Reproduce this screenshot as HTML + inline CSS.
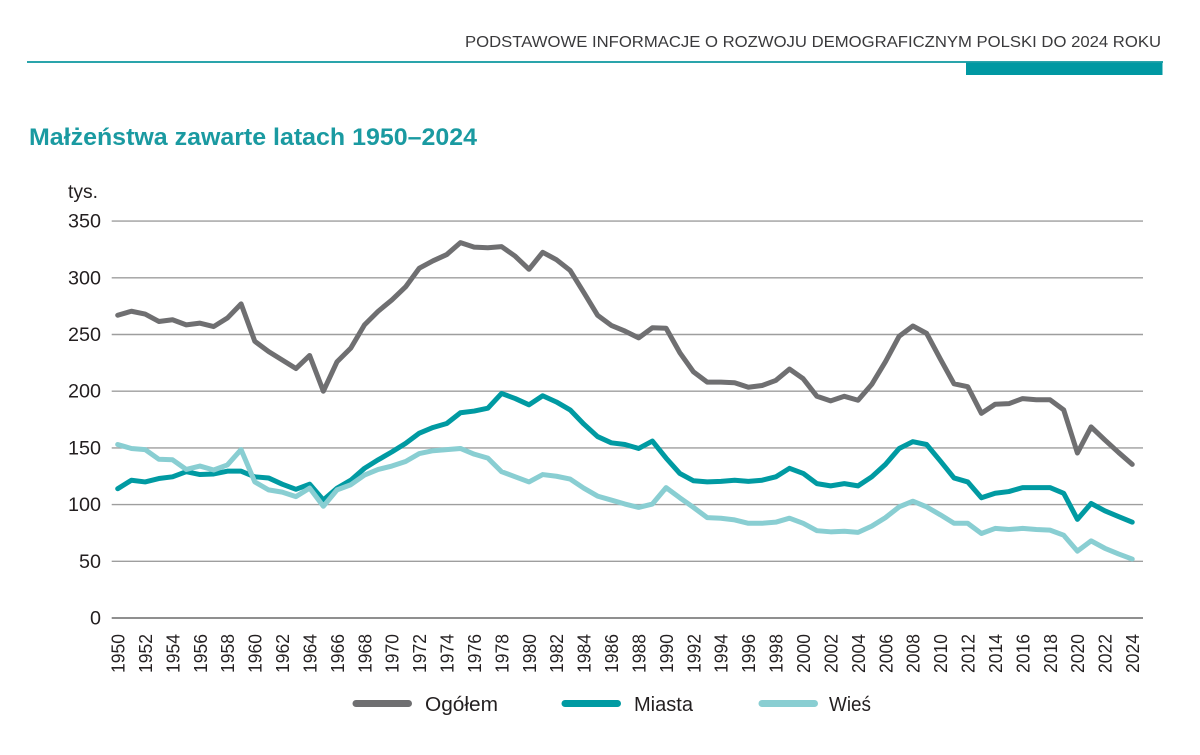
<!DOCTYPE html>
<html>
<head>
<meta charset="utf-8">
<style>
html,body{margin:0;padding:0;background:#fff;}
svg{display:block;}
text{font-family:"Liberation Sans",sans-serif;}
</style>
</head>
<body>
<svg width="1200" height="755" viewBox="0 0 1200 755" xmlns="http://www.w3.org/2000/svg">
  <!-- header -->
  <text x="465" y="47" font-size="16" fill="#3a3a3c" textLength="696" lengthAdjust="spacingAndGlyphs">PODSTAWOWE INFORMACJE O ROZWOJU DEMOGRAFICZNYM POLSKI DO 2024 ROKU</text>
  <rect x="27" y="61" width="1136" height="2" fill="#2aa4ab"/>
  <rect x="966" y="62.5" width="196.5" height="12.5" fill="#0098a2"/>

  <!-- title -->
  <text x="29" y="145" font-size="24" font-weight="bold" fill="#1a9aa1" textLength="448" lengthAdjust="spacingAndGlyphs">Małżeństwa zawarte latach 1950–2024</text>

  <!-- y unit -->
  <text x="68" y="198" font-size="19" fill="#231f20" textLength="30" lengthAdjust="spacingAndGlyphs">tys.</text>

  <!-- gridlines -->
  <g stroke="#9e9e9e" stroke-width="1.4">
    <line x1="111.7" y1="221.1" x2="1143" y2="221.1"/>
    <line x1="111.7" y1="277.8" x2="1143" y2="277.8"/>
    <line x1="111.7" y1="334.5" x2="1143" y2="334.5"/>
    <line x1="111.7" y1="391.2" x2="1143" y2="391.2"/>
    <line x1="111.7" y1="447.9" x2="1143" y2="447.9"/>
    <line x1="111.7" y1="504.6" x2="1143" y2="504.6"/>
    <line x1="111.7" y1="561.3" x2="1143" y2="561.3"/>
  </g>
  <line x1="111.7" y1="618" x2="1143" y2="618" stroke="#6a6a6a" stroke-width="1.6"/>

  <!-- y labels -->
  <g font-size="19" fill="#231f20" text-anchor="end">
    <text x="101" y="227.6" textLength="33" lengthAdjust="spacingAndGlyphs">350</text>
    <text x="101" y="284.3" textLength="33" lengthAdjust="spacingAndGlyphs">300</text>
    <text x="101" y="341" textLength="33" lengthAdjust="spacingAndGlyphs">250</text>
    <text x="101" y="397.7" textLength="33" lengthAdjust="spacingAndGlyphs">200</text>
    <text x="101" y="454.4" textLength="33" lengthAdjust="spacingAndGlyphs">150</text>
    <text x="101" y="511.1" textLength="33" lengthAdjust="spacingAndGlyphs">100</text>
    <text x="101" y="567.8" textLength="22" lengthAdjust="spacingAndGlyphs">50</text>
    <text x="101" y="624.5" textLength="11" lengthAdjust="spacingAndGlyphs">0</text>
  </g>

  <!-- x labels -->
  <g font-size="18" fill="#231f20" text-anchor="end">
    <text transform="translate(124.5,634) rotate(-90)" textLength="39" lengthAdjust="spacingAndGlyphs">1950</text>
    <text transform="translate(151.9,634) rotate(-90)" textLength="39" lengthAdjust="spacingAndGlyphs">1952</text>
    <text transform="translate(179.3,634) rotate(-90)" textLength="39" lengthAdjust="spacingAndGlyphs">1954</text>
    <text transform="translate(206.8,634) rotate(-90)" textLength="39" lengthAdjust="spacingAndGlyphs">1956</text>
    <text transform="translate(234.2,634) rotate(-90)" textLength="39" lengthAdjust="spacingAndGlyphs">1958</text>
    <text transform="translate(261.6,634) rotate(-90)" textLength="39" lengthAdjust="spacingAndGlyphs">1960</text>
    <text transform="translate(289.0,634) rotate(-90)" textLength="39" lengthAdjust="spacingAndGlyphs">1962</text>
    <text transform="translate(316.4,634) rotate(-90)" textLength="39" lengthAdjust="spacingAndGlyphs">1964</text>
    <text transform="translate(343.9,634) rotate(-90)" textLength="39" lengthAdjust="spacingAndGlyphs">1966</text>
    <text transform="translate(371.3,634) rotate(-90)" textLength="39" lengthAdjust="spacingAndGlyphs">1968</text>
    <text transform="translate(398.7,634) rotate(-90)" textLength="39" lengthAdjust="spacingAndGlyphs">1970</text>
    <text transform="translate(426.1,634) rotate(-90)" textLength="39" lengthAdjust="spacingAndGlyphs">1972</text>
    <text transform="translate(453.5,634) rotate(-90)" textLength="39" lengthAdjust="spacingAndGlyphs">1974</text>
    <text transform="translate(481.0,634) rotate(-90)" textLength="39" lengthAdjust="spacingAndGlyphs">1976</text>
    <text transform="translate(508.4,634) rotate(-90)" textLength="39" lengthAdjust="spacingAndGlyphs">1978</text>
    <text transform="translate(535.8,634) rotate(-90)" textLength="39" lengthAdjust="spacingAndGlyphs">1980</text>
    <text transform="translate(563.2,634) rotate(-90)" textLength="39" lengthAdjust="spacingAndGlyphs">1982</text>
    <text transform="translate(590.6,634) rotate(-90)" textLength="39" lengthAdjust="spacingAndGlyphs">1984</text>
    <text transform="translate(618.1,634) rotate(-90)" textLength="39" lengthAdjust="spacingAndGlyphs">1986</text>
    <text transform="translate(645.5,634) rotate(-90)" textLength="39" lengthAdjust="spacingAndGlyphs">1988</text>
    <text transform="translate(672.9,634) rotate(-90)" textLength="39" lengthAdjust="spacingAndGlyphs">1990</text>
    <text transform="translate(700.3,634) rotate(-90)" textLength="39" lengthAdjust="spacingAndGlyphs">1992</text>
    <text transform="translate(727.7,634) rotate(-90)" textLength="39" lengthAdjust="spacingAndGlyphs">1994</text>
    <text transform="translate(755.2,634) rotate(-90)" textLength="39" lengthAdjust="spacingAndGlyphs">1996</text>
    <text transform="translate(782.6,634) rotate(-90)" textLength="39" lengthAdjust="spacingAndGlyphs">1998</text>
    <text transform="translate(810.0,634) rotate(-90)" textLength="39" lengthAdjust="spacingAndGlyphs">2000</text>
    <text transform="translate(837.4,634) rotate(-90)" textLength="39" lengthAdjust="spacingAndGlyphs">2002</text>
    <text transform="translate(864.8,634) rotate(-90)" textLength="39" lengthAdjust="spacingAndGlyphs">2004</text>
    <text transform="translate(892.3,634) rotate(-90)" textLength="39" lengthAdjust="spacingAndGlyphs">2006</text>
    <text transform="translate(919.7,634) rotate(-90)" textLength="39" lengthAdjust="spacingAndGlyphs">2008</text>
    <text transform="translate(947.1,634) rotate(-90)" textLength="39" lengthAdjust="spacingAndGlyphs">2010</text>
    <text transform="translate(974.5,634) rotate(-90)" textLength="39" lengthAdjust="spacingAndGlyphs">2012</text>
    <text transform="translate(1001.9,634) rotate(-90)" textLength="39" lengthAdjust="spacingAndGlyphs">2014</text>
    <text transform="translate(1029.4,634) rotate(-90)" textLength="39" lengthAdjust="spacingAndGlyphs">2016</text>
    <text transform="translate(1056.8,634) rotate(-90)" textLength="39" lengthAdjust="spacingAndGlyphs">2018</text>
    <text transform="translate(1084.2,634) rotate(-90)" textLength="39" lengthAdjust="spacingAndGlyphs">2020</text>
    <text transform="translate(1111.6,634) rotate(-90)" textLength="39" lengthAdjust="spacingAndGlyphs">2022</text>
    <text transform="translate(1139.0,634) rotate(-90)" textLength="39" lengthAdjust="spacingAndGlyphs">2024</text>
  </g>

  <!-- series: data coords (year index, value) -->
  <g transform="translate(117.7,618) scale(13.71,-1.134)" fill="none" stroke-linejoin="round" stroke-linecap="round">
    <polyline vector-effect="non-scaling-stroke" stroke="#6f6f71" stroke-width="5"
      points="0,267 1,270.5 2,268 3,261.5 4,263 5,258.5 6,260 7,257 8,264.5 9,277 10,244 11,235 12,227.5 13,220 14,231.5 15,200 16,226 17,238 18,258.5 19,270.5 20,280.5 21,292 22,308.5 23,315 24,320.5 25,331 26,327 27,326.5 28,327.5 29,319 30,307.5 31,322.5 32,316 33,306.5 34,287 35,267 36,258 37,253 38,247 39,256 40,255.5 41,234 42,217 43,208 44,208 45,207.5 46,203.5 47,205 48,209.5 49,219.5 50,211 51,195.5 52,191.5 53,195.5 54,192 55,206 56,226 57,248.5 58,257.5 59,251 60,228.5 61,206.5 62,204 63,180.5 64,188.5 65,189 66,193.5 67,192.5 68,192.5 69,183.5 70,145.5 71,168.5 72,157 73,146 74,135.5"/>
    <polyline vector-effect="non-scaling-stroke" stroke="#009aa2" stroke-width="5"
      points="0,114 1,121.5 2,120 3,123 4,124.5 5,129 6,126.5 7,127 8,129.5 9,129.5 10,124.5 11,123.5 12,118 13,113.5 14,118 15,104 16,114.5 17,121.5 18,132 19,139.5 20,146.5 21,154 22,163 23,168 24,171.5 25,181 26,182.5 27,185 28,198 29,193.5 30,188 31,196 32,190.5 33,183.5 34,171 35,160 36,154.5 37,153 38,149.5 39,156 40,141 41,127.5 42,121 43,120 44,120.5 45,121.5 46,120.5 47,121.5 48,124.5 49,132 50,127.5 51,118.5 52,116.5 53,118.5 54,116.5 55,124.5 56,135.5 57,149.5 58,155.5 59,153 60,138.5 61,123.5 62,120 63,106 64,110 65,111.5 66,115 67,115 68,115 69,110 70,87 71,101 72,94.5 73,89.5 74,84.5"/>
    <polyline vector-effect="non-scaling-stroke" stroke="#89ced2" stroke-width="5"
      points="0,153 1,149.5 2,148.5 3,140 4,139.5 5,131 6,134 7,130.5 8,135 9,148.5 10,120 11,113 12,111 13,107 14,114.5 15,98.5 16,113 17,117.5 18,126 19,131 20,134 21,138 22,145 23,147.5 24,148.5 25,149.5 26,144.5 27,141 28,129 29,124.5 30,120 31,126.5 32,125 33,122.5 34,114.5 35,107.5 36,104 37,100.5 38,97.5 39,100.5 40,115 41,106 42,97.5 43,88.5 44,88 45,86.5 46,83.5 47,83.5 48,84.5 49,88 50,83.5 51,77 52,76 53,76.5 54,75.5 55,81 56,88.5 57,98 58,103 59,98 60,91 61,83.5 62,83.5 63,74.5 64,79 65,78 66,79 67,78 68,77.5 69,73 70,59 71,68 72,61.5 73,56.5 74,52"/>
  </g>

  <!-- legend -->
  <g stroke-width="7" stroke-linecap="round">
    <line x1="356" y1="703.5" x2="408.5" y2="703.5" stroke="#6f6f71"/>
    <line x1="565" y1="703.5" x2="617.5" y2="703.5" stroke="#009aa2"/>
    <line x1="762" y1="703.5" x2="814.5" y2="703.5" stroke="#89ced2"/>
  </g>
  <g font-size="20" fill="#231f20">
    <text x="425" y="711" textLength="73" lengthAdjust="spacingAndGlyphs">Ogółem</text>
    <text x="634" y="711" textLength="59" lengthAdjust="spacingAndGlyphs">Miasta</text>
    <text x="829" y="711" textLength="42" lengthAdjust="spacingAndGlyphs">Wieś</text>
  </g>
</svg>
</body>
</html>
